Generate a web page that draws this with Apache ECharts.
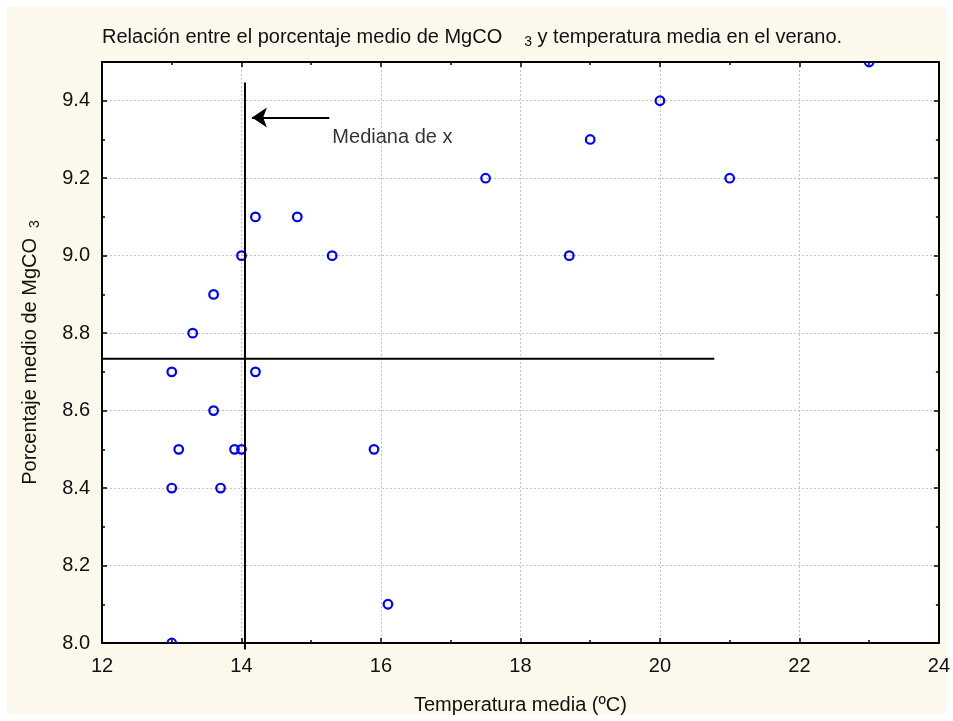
<!DOCTYPE html>
<html>
<head>
<meta charset="utf-8">
<script src="https://cdn.jsdelivr.net/npm/echarts@6/dist/echarts.min.js"></script>
<style>
    html, body { margin: 0; padding: 0; background: #ffffff; }
    #chartContainer { width: 953px; height: 721px; }
</style>
</head>
<body>
<div id="chartContainer"></div>
<script>
// datos
const temperatura = [23, 20, 19, 17.5, 21, 14.2, 14.8, 14.0, 15.3, 13.6, 13.3, 13.0, 14.2, 13.6, 13.1, 13.9, 14.0, 15.9, 13.0, 13.7, 16.1, 13.0, 18.7];
const mgco3 = [9.5, 9.4, 9.3, 9.2, 9.2, 9.1, 9.1, 9.0, 9.0, 8.9, 8.8, 8.7, 8.7, 8.6, 8.5, 8.5, 8.5, 8.5, 8.4, 8.4, 8.1, 8.0, 9.0];

// líneas de referencia (mediana de x y línea horizontal)
const medianaX = [[14.05, 9.447], [14.05, 7.983]];
const lineaH = [[12, 8.734], [20.78, 8.734]];
const flecha = [[15.26, 9.357], [14.15, 9.357]];
const etiqueta = [[15.26, 9.306]];

const xTicks = { min: 12, max: 24, interval: 2 };
const yTicks = { min: 8.0, max: 9.5, interval: 0.2 };

const FONT = '"Liberation Sans", Arial, sans-serif';
const TXT = '#111111';
const puntos = temperatura.map((t, i) => [t, mgco3[i]]);

let chart = null;

function axisBase(extra) {
    return Object.assign({
        type: 'value',
        axisLine: { show: true, onZero: false, lineStyle: { color: '#000', width: 2 } },
        axisTick: { show: true, inside: true, length: 5, lineStyle: { color: '#000', width: 1.5 } },
        minorTick: { show: true, splitNumber: 2, length: 3, lineStyle: { color: '#000', width: 1.5 } },
        splitLine: { show: false },
        axisLabel: { show: false }
    }, extra);
}

function initChart() {
    chart = echarts.init(document.getElementById('chartContainer'), null, { renderer: 'canvas' });
    chart.setOption({
        backgroundColor: '#ffffff',
        animation: false,
        textStyle: { fontFamily: FONT },
        graphic: [
            {
                type: 'rect',
                z: -10,
                shape: { x: 7, y: 7, width: 939, height: 707 },
                style: { fill: '#fdf8ec' }
            }
        ],
        title: {
            text: '{a|Relación entre el porcentaje medio de MgCO}{g|}{s|3}{a| y temperatura media en el verano.}',
            left: 97,
            top: 21,
            textStyle: {
                fontWeight: 'normal',
                rich: {
                    a: { fontSize: 20, color: TXT, fontFamily: FONT, fontWeight: 'normal' },
                    g: { width: 22 },
                    s: { fontSize: 14, color: TXT, fontFamily: FONT, fontWeight: 'normal', padding: [9, 0, 0, 0] }
                }
            }
        },
        grid: {
            left: 102,
            right: 11,
            top: 62,
            bottom: 78,
            show: true,
            backgroundColor: '#ffffff',
            borderColor: '#000',
            borderWidth: 0
        },
        xAxis: [
            axisBase({
                position: 'bottom',
                min: xTicks.min,
                max: xTicks.max,
                interval: xTicks.interval,
                name: 'Temperatura media (ºC)',
                nameLocation: 'middle',
                nameGap: 52,
                nameTextStyle: { fontSize: 20, color: TXT, fontFamily: FONT },
                axisLabel: { show: true, fontSize: 20, color: TXT, margin: 13, fontFamily: FONT },
                splitLine: { show: true, lineStyle: { color: '#c4c4c4', width: 1, type: [2, 2] } }
            }),
            axisBase({
                position: 'top',
                min: xTicks.min,
                max: xTicks.max,
                interval: xTicks.interval
            })
        ],
        yAxis: [
            axisBase({
                position: 'left',
                min: yTicks.min,
                max: yTicks.max,
                interval: yTicks.interval,
                name: '{a|Porcentaje medio de MgCO}{g|}{s|3}',
                nameLocation: 'middle',
                nameGap: 60,
                nameTextStyle: {
                    rich: {
                        a: { fontSize: 20, color: TXT, fontFamily: FONT },
                        g: { width: 10 },
                        s: { fontSize: 14, color: TXT, fontFamily: FONT, padding: [9, 0, 0, 0] }
                    }
                },
                axisLabel: {
                    show: true, fontSize: 20, color: TXT, margin: 12, fontFamily: FONT,
                    showMaxLabel: false,
                    formatter: v => (Math.abs(v - 9.5) < 1e-6 ? '' : v.toFixed(1))
                },
                splitLine: { show: true, lineStyle: { color: '#c4c4c4', width: 1, type: [2, 2] } }
            }),
            axisBase({
                position: 'right',
                min: yTicks.min,
                max: yTicks.max,
                interval: yTicks.interval
            })
        ],
        series: [
            {
                name: 'puntos',
                type: 'custom',
                clip: true,
                z: 3,
                data: puntos,
                renderItem: (params, api) => {
                    const p = api.coord([api.value(0), api.value(1)]);
                    return {
                        type: 'circle',
                        shape: { cx: p[0], cy: p[1], r: 4.3 },
                        style: { fill: 'rgba(0,0,0,0)', stroke: '#0000ff', lineWidth: 2.2 }
                    };
                }
            },
            {
                name: 'mediana',
                type: 'line',
                data: medianaX,
                clip: false,
                symbol: 'none',
                z: 4,
                lineStyle: { color: '#000', width: 2 }
            },
            {
                name: 'horizontal',
                type: 'line',
                data: lineaH,
                symbol: 'none',
                z: 4,
                lineStyle: { color: '#000', width: 2 }
            },
            {
                name: 'flecha',
                type: 'lines',
                coordinateSystem: 'cartesian2d',
                symbol: ['none', 'arrow'],
                symbolSize: [11, 15],
                z: 4,
                lineStyle: { color: '#000', width: 2, opacity: 1 },
                data: [{ coords: flecha }]
            },
            {
                name: 'texto',
                type: 'scatter',
                data: etiqueta,
                symbolSize: 0,
                z: 4,
                label: {
                    show: true,
                    position: 'right',
                    distance: 3,
                    formatter: 'Mediana de x',
                    fontSize: 20,
                    color: '#000',
                    fontFamily: FONT
                }
            }
        ]
    });
}

initChart();
</script>
</body>
</html>
